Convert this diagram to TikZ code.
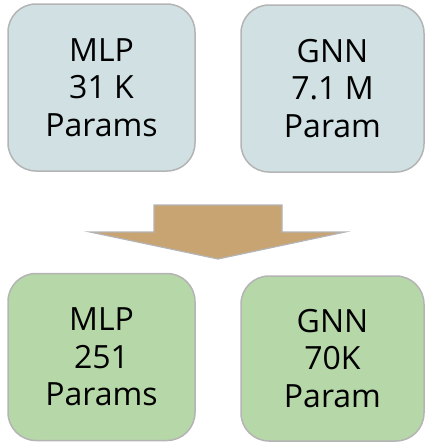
\documentclass[tikz,border=0pt]{standalone}
\usepackage{fontspec}
\setmainfont{Open Sans}
\definecolor{topfill}{HTML}{D0E0E3}
\definecolor{botfill}{HTML}{B6D7A8}
\definecolor{arrfill}{HTML}{C9A473}
\definecolor{edge}{HTML}{B4B4B4}
\begin{document}
\begin{tikzpicture}[x=1pt,y=-1pt,
  box/.style={draw=edge, line width=1.5pt, rounded corners=28pt, minimum width=187pt, minimum height=167pt, inner sep=0pt, align=center, font=\fontsize{32}{37.7}\selectfont, text=black},
  topbox/.style={box, fill=topfill},
  botbox/.style={box, fill=botfill}]
\useasboundingbox (0,0) rectangle (426,442);
\node[topbox] (mlp1) at (101.5,87.5) {MLP\\31 K\\Params};
\node[topbox, minimum width=183pt] (gnn1) at (332.5,88.5) {GNN\\7.1 M\\Param};
\node[botbox] (mlp2) at (101.5,357) {MLP\\251\\Params};
\node[botbox, minimum width=183pt, minimum height=165pt] (gnn2) at (332.5,358.5) {GNN\\70K\\Param};
\draw[draw=edge, line width=1.2pt, fill=arrfill] (154,205) -- (282,205) -- (282,232) -- (345,232) -- (218,259) -- (90,232) -- (154,232) -- cycle;
\end{tikzpicture}
\end{document}
